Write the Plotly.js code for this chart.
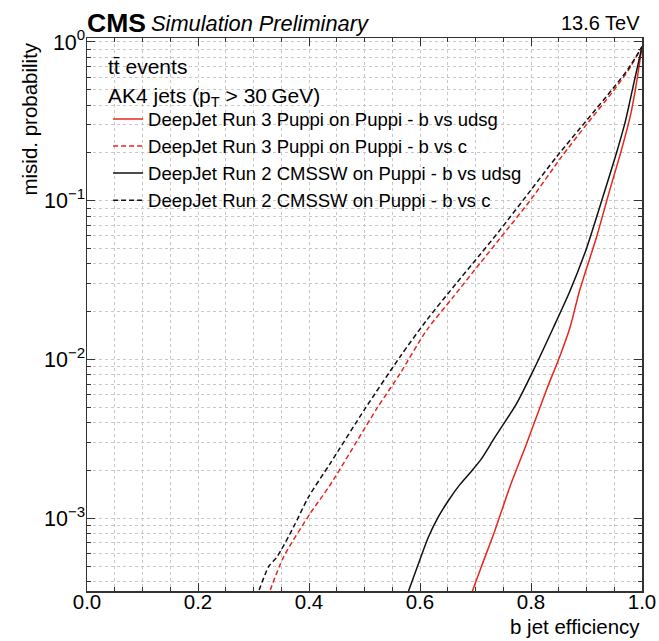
<!DOCTYPE html>
<html>
<head>
<meta charset="utf-8">
<script src="https://cdn.plot.ly/plotly-3.0.1.min.js"></script>
<style>html,body{margin:0;padding:0;background:#fff;}#chart{width:659px;height:641px;}</style>
</head>
<body>
<div id="chart"></div>
<script>
// b-jet efficiency (x) and misidentification probability (y)
const r3UdsgX = [0.690, 0.710, 0.735, 0.762, 0.792, 0.828, 0.852, 0.870, 0.888, 0.918, 0.942, 0.963, 0.980, 0.990, 1.000];
const r3UdsgY = [3.16e-4, 4.90e-4, 8.38e-4, 1.58e-3, 2.95e-3, 6.46e-3, 1.05e-2, 1.58e-2, 2.75e-2, 5.89e-2, 0.117, 0.209, 0.355, 0.550, 0.933];

const r3CX = [0.325, 0.354, 0.402, 0.438, 0.522, 0.564, 0.612, 0.660, 0.708, 0.744, 0.800, 0.855, 0.900, 0.948, 0.975, 1.000];
const r3CY = [3.16e-4, 5.69e-4, 1.07e-3, 1.62e-3, 4.90e-3, 8.15e-3, 1.53e-2, 2.48e-2, 4.03e-2, 5.78e-2, 0.102, 0.189, 0.302, 0.490, 0.661, 0.933];

const r2UdsgX = [0.575, 0.597, 0.615, 0.633, 0.651, 0.670, 0.690, 0.710, 0.735, 0.774, 0.804, 0.840, 0.870, 0.900, 0.930, 0.954, 0.970, 0.984, 1.000];
const r2UdsgY = [3.16e-4, 5.16e-4, 7.60e-4, 1.02e-3, 1.29e-3, 1.60e-3, 1.93e-3, 2.35e-3, 3.24e-3, 5.27e-3, 8.51e-3, 1.58e-2, 2.69e-2, 5.01e-2, 0.107, 0.200, 0.316, 0.525, 0.933];

const r2CX = [0.305, 0.328, 0.342, 0.372, 0.399, 0.438, 0.501, 0.564, 0.612, 0.660, 0.708, 0.744, 0.800, 0.846, 0.900, 0.948, 0.975, 1.000];
const r2CY = [3.16e-4, 5.01e-4, 5.69e-4, 8.79e-4, 1.36e-3, 2.21e-3, 4.90e-3, 1.04e-2, 1.77e-2, 2.86e-2, 4.57e-2, 6.53e-2, 0.117, 0.189, 0.320, 0.511, 0.676, 0.933];

const seriesNames = [
  'DeepJet Run 3 Puppi on Puppi - b vs udsg',
  'DeepJet Run 3 Puppi on Puppi - b vs c',
  'DeepJet Run 2 CMSSW on Puppi - b vs udsg',
  'DeepJet Run 2 CMSSW on Puppi - b vs c'
];
const yTickVals = [1e-3, 1e-2, 1e-1, 1];
const yTickText = ['10<sup>\u22123</sup>', '10<sup>\u22122</sup>', '10<sup>\u22121</sup>', '10<sup>0</sup>'];
const xTickVals = [0, 0.2, 0.4, 0.6, 0.8, 1.0];
const xTickText = ['0.0', '0.2', '0.4', '0.6', '0.8', '1.0'];

const FONT = 'Liberation Sans, Arial, Helvetica, sans-serif';
const RED = '#e8261c';
const BLK = '#111111';
const DASH = '5px,3px';

// minor log ticks 2..9 per decade
const yMinor = [];
for (const d of [1e-4, 1e-3, 1e-2, 1e-1]) for (let k = 2; k <= 9; k++) yMinor.push(+(k * d).toPrecision(3));

function tr(x, y, name, color, dash, g) {
  return {x: x, y: y, name: name, type: 'scatter', mode: 'lines', legendgroup: g,
          line: {color: color, width: 1.5, dash: dash, shape: 'spline', smoothing: 0.7}};
}
const data = [
  tr(r3UdsgX, r3UdsgY, seriesNames[0], RED, 'solid', 'a'),
  tr(r3CX, r3CY, seriesNames[1], RED, DASH, 'b'),
  tr(r2UdsgX, r2UdsgY, seriesNames[2], BLK, 'solid', 'c'),
  tr(r2CX, r2CY, seriesNames[3], BLK, DASH, 'd')
];

const gridc = '#c8c8c8';
const layout = {
  width: 659, height: 641,
  margin: {l: 87, r: 17, t: 38, b: 50},
  paper_bgcolor: '#fff', plot_bgcolor: '#fff',
  font: {family: FONT, color: '#000', size: 20},
  showlegend: true,
  legend: {x: 0.038, y: 0.887, xanchor: 'left', yanchor: 'top', bgcolor: 'rgba(0,0,0,0)',
           font: {family: FONT, size: 18.5, color: '#000'}, tracegroupgap: 0},
  xaxis: {
    range: [0, 1], tickmode: 'array', tickvals: xTickVals, ticktext: xTickText,
    ticks: 'inside', ticklen: 8, tickwidth: 1, tickcolor: '#333', ticklabelstandoff: -8,
    showline: true, linecolor: '#333', linewidth: 1.5, mirror: 'allticks',
    showgrid: true, gridcolor: gridc, griddash: 'dot', gridwidth: 1,
    zeroline: false, tickfont: {size: 20.5, family: FONT},
    minor: {dtick: 0.05, tick0: 0, ticks: 'inside', ticklen: 4, tickcolor: '#333',
            showgrid: true, gridcolor: gridc, griddash: 'dot', gridwidth: 1}
  },
  yaxis: {
    type: 'log', range: [-3.458, 0.025], tickmode: 'array', tickvals: yTickVals, ticktext: yTickText,
    ticks: 'inside', ticklen: 8, tickwidth: 1, tickcolor: '#333', ticklabelstandoff: -4,
    showline: true, linecolor: '#333', linewidth: 1.5, mirror: 'allticks',
    showgrid: true, gridcolor: gridc, griddash: 'dot', gridwidth: 1,
    zeroline: false, tickfont: {size: 21.5, family: FONT},
    minor: {tickmode: 'array', tickvals: yMinor, ticks: 'inside', ticklen: 4, tickcolor: '#333',
            showgrid: true, gridcolor: gridc, griddash: 'dot', gridwidth: 1}
  },
  annotations: [
    {text: '<b>CMS</b>', xref: 'paper', yref: 'paper', x: 0, y: 1.027, xanchor: 'left', yanchor: 'middle',
     showarrow: false, font: {size: 26.5, family: FONT}, xshift: -2},
    {text: '<i>Simulation Preliminary</i>', xref: 'paper', yref: 'paper', x: 0.112, y: 1.027, xanchor: 'left', yanchor: 'middle',
     showarrow: false, font: {size: 21.8, family: FONT}},
    {text: '13.6 TeV', xref: 'paper', yref: 'paper', x: 1, y: 1.027, xanchor: 'right', yanchor: 'middle',
     showarrow: false, font: {size: 20, family: FONT}},
    {text: 'tt\u0304 events', xref: 'paper', yref: 'paper', x: 0.034, y: 0.948, xanchor: 'left', yanchor: 'middle',
     showarrow: false, font: {size: 21, family: FONT}},
    {text: 'AK4 jets (p<sub>T</sub> > 30\u2009GeV)', xref: 'paper', yref: 'paper', x: 0.034, y: 0.894, xanchor: 'left', yanchor: 'middle',
     showarrow: false, font: {size: 21, family: FONT}},
    {text: 'b jet efficiency', xref: 'paper', yref: 'paper', x: 1, y: -0.064, xanchor: 'right', yanchor: 'middle',
     showarrow: false, font: {size: 20.5, family: FONT}},
    {text: 'misid. probability', xref: 'paper', yref: 'paper', x: -0.103, y: 0.996, xanchor: 'center', yanchor: 'top',
     textangle: -90, showarrow: false, font: {size: 20.5, family: FONT}}
  ]
};

Plotly.newPlot('chart', data, layout, {displayModeBar: false, staticPlot: true});
</script>
</body>
</html>
